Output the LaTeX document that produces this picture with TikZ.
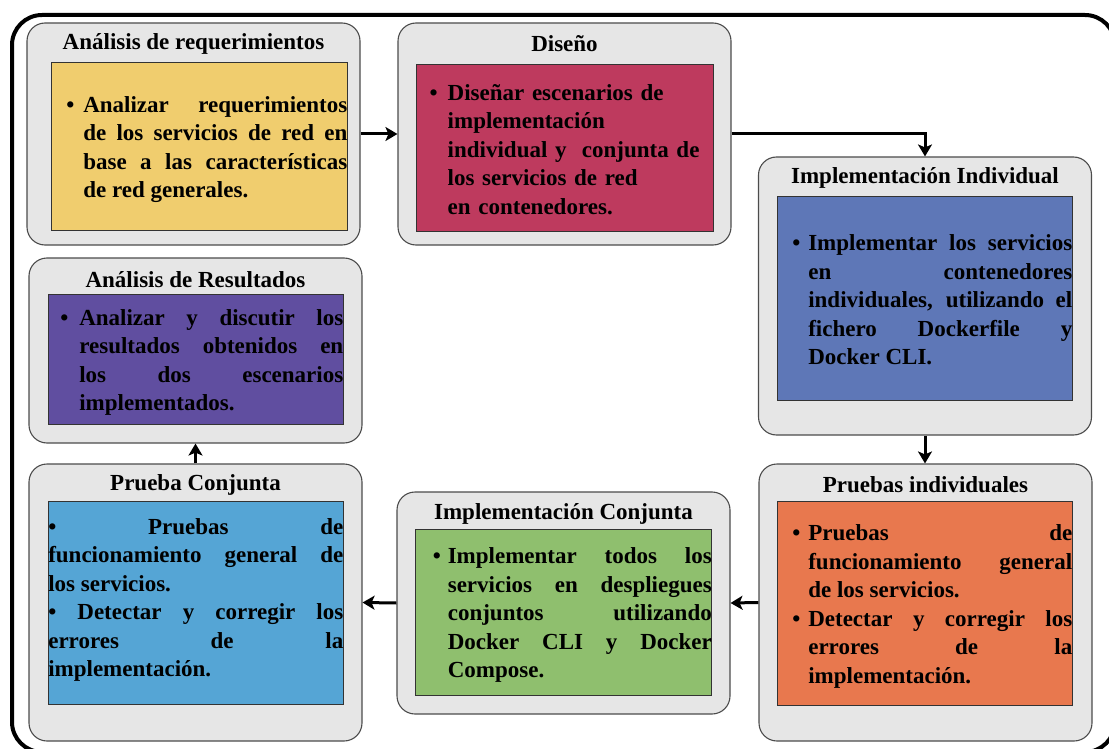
\documentclass[tikz,border=0pt]{standalone}
\usepackage{fontspec}
\setmainfont{Liberation Serif}
\usetikzlibrary{arrows.meta}
\setlength{\parindent}{0pt}

% colours of the seven stages
\definecolor{stagegrey}{HTML}{E6E6E6}
\definecolor{reqyellow}{HTML}{F0CD6E}
\definecolor{designred}{HTML}{BE3A5E}
\definecolor{indblue}{HTML}{5E77B7}
\definecolor{testorange}{HTML}{E8784E}
\definecolor{jointgreen}{HTML}{8FBF6E}
\definecolor{jointsky}{HTML}{55A5D5}
\definecolor{resultpurple}{HTML}{604EA0}

\newcommand{\stagefont}{\fontsize{23}{28.5}\selectfont\bfseries}
% bullet hanging to the left of the paragraph text
\newcommand{\hangbullet}[1]{\par\hangindent=#1\hangafter=1\noindent\makebox[#1][l]{\textbullet}}

\begin{document}
\begin{tikzpicture}[x=1pt,y=-1pt,
  frame/.style={draw=black, line width=4pt, rounded corners=30pt},
  stage/.style={draw=black!70, fill=stagegrey, line width=1.1pt, rounded corners=18pt, inner sep=0pt},
  inbox/.style={draw=black!80, line width=1pt, inner sep=0pt},
  ttl/.style={font=\stagefont, inner sep=0pt},
  body/.style={font=\stagefont, align=justify, inner sep=0pt, yshift=3pt},
  ragged/.style={font=\stagefont, align=left, inner sep=0pt, yshift=5pt},
  flow/.style={draw=black, line width=3pt, -{Stealth[length=12pt,width=14pt,inset=3pt]}}]
\useasboundingbox (0,0) rectangle (1109,749);
\clip (0,0) rectangle (1109,749);

% surrounding frame
\draw[frame] (12,15) rectangle (1115,752);

% Análisis de requerimientos
\node[stage, minimum width=333pt, minimum height=222pt] (s1) at (193.5,134) {};
\node[ttl] (h1) at (193.5,44) {Análisis de requerimientos};
\node[inbox, fill=reqyellow, minimum width=296pt, minimum height=167pt] (b1) at (199,146.5) {};
\node[body, text width=281pt, anchor=east] (t1) at (b1.east)
  {\hangbullet{17pt}Analizar requerimientos\linebreak de los servicios de red en\linebreak base a las características\linebreak de red generales.\par};

% Diseño
\node[stage, minimum width=333pt, minimum height=222pt] (s2) at (564.5,134) {};
\node[ttl] (h2) at (564.5,44) {Diseño};
\node[inbox, fill=designred, minimum width=297pt, minimum height=166pt] (b2) at (564.5,148) {};
\node[ragged, text width=283pt, anchor=west] (t2) at (b2.west) [xshift=14pt]
  {\hangbullet{18pt}Diseñar escenarios de\newline implementación\newline individual y \ conjunta de\newline los servicios de red\newline en contenedores.\par};

% Implementación Individual
\node[stage, minimum width=333pt, minimum height=278pt] (s3) at (925,296) {};
\node[ttl] (h3) at (925,178) {Implementación Individual};
\node[inbox, fill=indblue, minimum width=295pt, minimum height=203pt] (b3) at (924.5,298.5) {};
\node[body, text width=280pt, anchor=east] (t3) at (b3.east) [yshift=2pt]
  {\hangbullet{16pt}Implementar los servicios\linebreak en contenedores\linebreak individuales, utilizando el\linebreak fichero Dockerfile y\linebreak Docker CLI.\par};

% Pruebas individuales
\node[stage, minimum width=333pt, minimum height=277pt] (s4) at (925.5,602.5) {};
\node[ttl] (h4) at (925.5,485) {Pruebas individuales};
\node[inbox, fill=testorange, minimum width=295pt, minimum height=204pt] (b4) at (924.5,603) {};
\node[body, text width=280pt, anchor=east] (t4) at (b4.east)
  {\hangbullet{16pt}Pruebas de\linebreak funcionamiento general\linebreak de los servicios.
   \hangbullet{16pt}Detectar y corregir los\linebreak errores de la\linebreak implementación.\par};

% Implementación Conjunta
\node[stage, minimum width=333pt, minimum height=222pt] (s5) at (563.5,603) {};
\node[ttl] (h5) at (563.5,514) {Implementación Conjunta};
\node[inbox, fill=jointgreen, minimum width=296pt, minimum height=166pt] (b5) at (563.5,612) {};
\node[body, text width=279pt, anchor=east] (t5) at (b5.east)
  {\hangbullet{15pt}Implementar todos los\linebreak servicios en despliegues\linebreak conjuntos utilizando\linebreak Docker CLI y Docker\linebreak Compose.\par};

% Prueba Conjunta
\node[stage, minimum width=333pt, minimum height=277pt] (s6) at (195.5,602.5) {};
\node[ttl] (h6) at (195.5,485) {Prueba Conjunta};
\node[inbox, fill=jointsky, minimum width=295pt, minimum height=203pt] (b6) at (195.5,603) {};
\node[body, text width=295pt, anchor=east] (t6) at (b6.east)
  {\textbullet{} Pruebas de\linebreak funcionamiento general de\linebreak los servicios.\par
   \textbullet{} Detectar y corregir los\linebreak errores de la\linebreak implementación.\par};

% Análisis de Resultados
\node[stage, minimum width=333pt, minimum height=185pt] (s7) at (195.5,350.5) {};
\node[ttl] (h7) at (195.5,280) {Análisis de Resultados};
\node[inbox, fill=resultpurple, minimum width=295pt, minimum height=130pt] (b7) at (195.5,359) {};
\node[body, text width=283pt, anchor=east] (t7) at (b7.east)
  {\hangbullet{19pt}Analizar y discutir los\linebreak resultados obtenidos en\linebreak los dos escenarios\linebreak implementados.\par};

% workflow arrows
\draw[flow] (s1.east) -- (s2.west);
\draw[flow] (s2.east) -| (s3.north);
\draw[flow] (s3.south) -- (s3.south |- s4.north);
\draw[flow] (s4.west) -- (s5.east);
\draw[flow] (s5.west) -- (s6.east);
\draw[flow] (s6.north) -- (s6.north |- s7.south);
\end{tikzpicture}
\end{document}
